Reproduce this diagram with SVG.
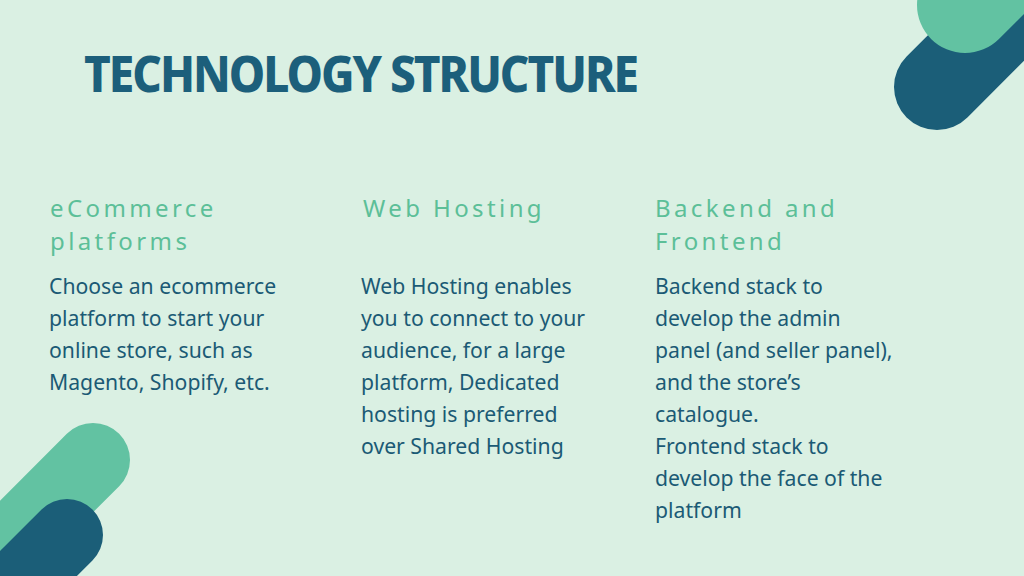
<svg xmlns="http://www.w3.org/2000/svg" width="1024" height="576" viewBox="0 0 1024 576">
<style>
.title{font-family:"Noto Sans","Open Sans",sans-serif;font-weight:800;font-size:50px;letter-spacing:-2.2px;fill:#1c5f7b}
.head{font-family:"Noto Sans","Open Sans",sans-serif;font-size:24px;letter-spacing:3.4px;fill:#5cbf98}
.body{font-family:"Noto Sans","Open Sans",sans-serif;font-size:21.2px;fill:#1b5a75}
.g{stroke:#62c2a2;stroke-linecap:round;fill:none}
.d{stroke:#1b5e78;stroke-linecap:round;fill:none}
</style>
<rect width="1024" height="576" fill="#daf0e3"/>
<g id="decor-top-right">
<line class="d" x1="937" y1="87" x2="1150" y2="-126" stroke-width="86"/>
<line class="g" x1="965" y1="5" x2="1100" y2="-130" stroke-width="96"/>
</g>
<g id="decor-bottom-left">
<line class="g" x1="93" y1="460" x2="-100" y2="653" stroke-width="74"/>
<line class="d" x1="67" y1="535" x2="-100" y2="702" stroke-width="72"/>
</g>
<g id="title">
<text class="title" x="84" y="92" textLength="553" lengthAdjust="spacingAndGlyphs">TECHNOLOGY STRUCTURE</text>
</g>
<g id="col-ecommerce">
<text class="head" x="50" y="217">eCommerce</text>
<text class="head" x="50" y="250">platforms</text>
<text class="body" x="49" y="294">Choose an ecommerce</text>
<text class="body" x="49" y="326">platform to start your</text>
<text class="body" x="49" y="358">online store, such as</text>
<text class="body" x="49" y="390">Magento, Shopify, etc.</text>
</g>
<g id="col-hosting">
<text class="head" x="363" y="217">Web Hosting</text>
<text class="body" x="361" y="294">Web Hosting enables</text>
<text class="body" x="361" y="326">you to connect to your</text>
<text class="body" x="361" y="358">audience, for a large</text>
<text class="body" x="361" y="390">platform, Dedicated</text>
<text class="body" x="361" y="422">hosting is preferred</text>
<text class="body" x="361" y="454">over Shared Hosting</text>
</g>
<g id="col-stack">
<text class="head" x="655" y="217">Backend and</text>
<text class="head" x="655" y="250">Frontend</text>
<text class="body" x="655" y="294">Backend stack to</text>
<text class="body" x="655" y="326">develop the admin</text>
<text class="body" x="655" y="358">panel (and seller panel),</text>
<text class="body" x="655" y="390">and the store’s</text>
<text class="body" x="655" y="422">catalogue.</text>
<text class="body" x="655" y="454">Frontend stack to</text>
<text class="body" x="655" y="486">develop the face of the</text>
<text class="body" x="655" y="518">platform</text>
</g>
</svg>
